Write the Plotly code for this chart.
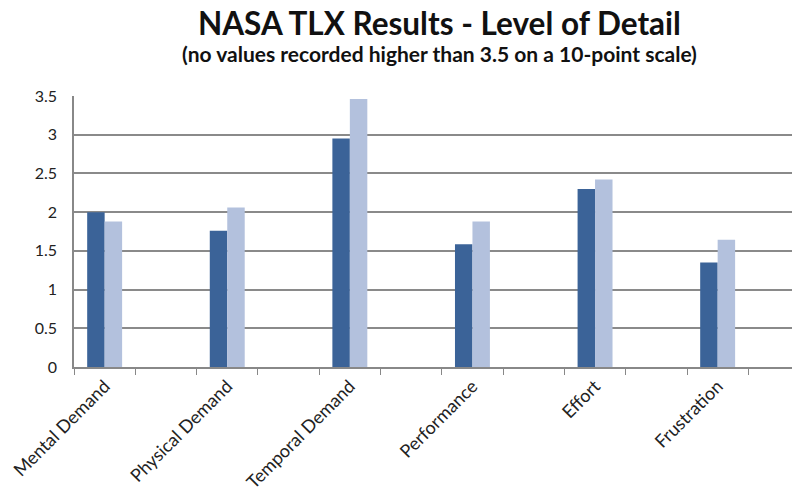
import plotly.graph_objects as go

categories = ["Mental Demand", "Physical Demand", "Temporal Demand", "Performance", "Effort", "Frustration"]
series_a = [2.0, 1.76, 2.95, 1.585, 2.30, 1.35]
series_b = [1.88, 2.06, 3.46, 1.88, 2.42, 1.645]
y_ticks = [0, 0.5, 1, 1.5, 2, 2.5, 3, 3.5]
title = "NASA TLX Results - Level of Detail"
subtitle = "(no values recorded higher than 3.5 on a 10-point scale)"

# Excel layout: every real category followed by an empty spacer category
all_cats = []
for i, c in enumerate(categories):
    all_cats.append(c)
    all_cats.append(" " * (i + 1))

OFF = 8  # page body margin
W, H = 800, 492
L, T = 74 - OFF, 96 - OFF
B = H - (367 - OFF)
R = 0
pw = W - L - R
ph = H - T - B

def px_x(x):
    return (x - OFF - L) / pw

def px_y(y):
    return 1 + (T - (y - OFF)) / ph

# x range so that one category interval is ~61.3 px
interval = 61.3
x_max = -0.5 + pw / interval

fig = go.Figure()
fig.add_trace(go.Bar(x=categories, y=series_a, marker=dict(color="#3B6398", line=dict(width=0)), name="A"))
fig.add_trace(go.Bar(x=categories, y=series_b, marker=dict(color="#B3C1DD", line=dict(width=0)), name="B"))

fig.update_layout(
    width=W, height=H,
    margin=dict(l=L, r=R, t=T, b=B, autoexpand=False),
    paper_bgcolor="white", plot_bgcolor="white",
    showlegend=False,
    barmode="group", bargap=0.43, bargroupgap=0,
    font=dict(family="Lato, Open Sans, sans-serif", color="#222"),
    annotations=[
        dict(text="<b><span style='font-size:31.5px'>" + title + "</span><br>" + subtitle + "</b>",
             x=px_x(439), y=px_y(68),
             xref="paper", yref="paper", xanchor="center", yanchor="bottom", align="center",
             showarrow=False, font=dict(size=21, color="#111")),
    ],
)

fig.update_xaxes(
    type="category", categoryorder="array", categoryarray=all_cats,
    range=[-0.5, x_max], tickson="boundaries", ticks="outside", ticklen=6,
    tickcolor="#888", showline=True, linecolor="#888", linewidth=1.5,
    tickangle=-45, tickfont=dict(size=18, family="Lato, Open Sans, sans-serif", color="#222"),
    showgrid=False, automargin=False,
)
fig.update_yaxes(
    range=[0, 3.5], tickvals=y_ticks, ticktext=[("%g" % v) for v in y_ticks],
    showgrid=True, gridcolor="#8a8a8a", gridwidth=1.5,
    showline=True, linecolor="#888", linewidth=1.5, ticks="", ticklabelstandoff=12,
    tickfont=dict(size=16, color="#222"), zeroline=False, automargin=False,
)

fig.write_html("out.html")
